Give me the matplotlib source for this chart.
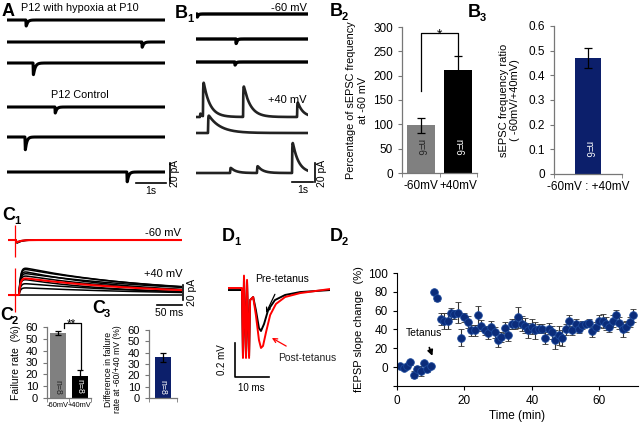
import numpy as np
import matplotlib
matplotlib.use("Agg")
import matplotlib.pyplot as plt

plt.rcParams['font.family'] = ['Liberation Sans', 'DejaVu Sans']

W, H = 640, 433
fig = plt.figure(figsize=(6.4, 4.33), dpi=100)

NAVY = '#0c1f6b'
DOT = '#0b2c7a'


def px_axes(x, y, w, h):
    return fig.add_axes([x / W, 1 - (y + h) / H, w / W, h / H])


def ftext(x, y, s, **kw):
    fig.text(x / W, 1 - y / H, s, **kw)


def panel_label(x, y, letter, sub=''):
    ftext(x, y, letter, fontsize=13, fontweight='bold', va='top')
    if sub:
        ftext(x + 12, y + 9, sub, fontsize=8, fontweight='bold', va='top')


def trace(t, events, rise):
    out = np.zeros_like(t)
    for t0, amp, tau in events:
        m = t >= t0
        dt = t[m] - t0
        out[m] += amp * (1 - np.exp(-dt / rise)) * np.exp(-dt / tau)
    return out


# ---------------- data ----------------
# A: spontaneous EPSCs (event time s, amplitude pA, decay s), -60 mV
A_hyp_events = [[(0.63, -8, 0.05)], [(4.50, -7, 0.05)], [(0.87, -15, 0.06)]]
A_ctl_events = [[(1.60, -8, 0.05)], [(0.60, -17, 0.05)], [(4.00, -13, 0.05)]]

# B1: same cell at -60 mV and +40 mV
B1_neg_events = [[(0.05, -4, 0.05)], [(1.90, -6, 0.05)], [(1.85, -4, 0.05)]]
B1_pos_events = [
    [(0.19, 5, 0.08), (0.33, 39, 0.30), (2.24, 35, 0.32), (4.81, 17, 0.25)],
    [(0.57, 19, 0.55)],
    [(1.62, 6, 0.25), (2.90, 8, 0.25), (4.57, 35, 0.28)],
]

# B2 / B3
b2_cats = ['-60mV', '+40mV']
b2_vals = [98, 211]
b2_err = [15, 30]
b3_val = 0.47
b3_err = 0.04

# C1: evoked EPSCs (amplitude pA, decay ms)
C1_neg_amp = [-6, -5, -4]
C1_neg_tau = [8, 10, 7]
C1_pos_amp = [38, 36, 33, 30, 27, 22, 16, 10, 0]
C1_pos_tau = [260, 280, 220, 300, 240, 200, 260, 300, 200]
C1_onset_ms = 22
C1_stim_ms = 14

# C2 / C3
c2_vals = [55, 19]
c2_err = [2, 5]
c3_val = 36
c3_err = 4

# D1: fEPSP traces (ms, mV)
d1_t = [0, 4.1, 4.4, 4.7, 5.3, 5.6, 6.2, 6.5, 7.4, 8.2, 9.1, 9.7, 10.6, 11.8,
        13.8, 16.8, 21.2, 25.6, 30]
d1_pre = [0, 0, -0.388, 0.071, -0.394, 0.047, -0.388, -0.059, -0.041, -0.118,
          -0.224, -0.241, -0.200, -0.118, -0.059, -0.029, -0.012, -0.006, 0.0]
d1_post_t = [0, 4.1, 4.4, 4.7, 5.3, 5.6, 6.2, 6.5, 7.4, 8.2, 9.1, 9.7, 10.3,
             11.2, 12.4, 14.1, 16.8, 21.2, 25.6, 30]
d1_post = [0.012, 0.012, -0.40, 0.085, -0.40, 0.06, -0.40, -0.059, -0.041, -0.147,
           -0.294, -0.341, -0.329, -0.247, -0.147, -0.082, -0.041, -0.018, -0.006, 0.006]

# D2: fEPSP slope change time course
d2_time = np.arange(1, 71)
d2_mean = [1, -1, 1, 5, -8, -2, -4, 4, -2, 1,
           80, 73, 51, 49, 49, 57, 56, 58, 31, 53,
           48, 39, 39, 55, 44, 39, 36, 43, 37, 29,
           32, 42, 34, 46, 46, 53, 46, 44, 39, 43,
           39, 41, 41, 31, 41, 37, 29, 34, 31, 40,
           49, 39, 46, 40, 45, 46, 47, 38, 43, 49,
           49, 46, 43, 49, 55, 47, 40, 43, 48, 55]
d2_err = [2, 2, 2, 3, 4, 3, 5, 3, 3, 2,
          2, 3, 6, 8, 8, 6, 5, 11, 9, 5,
          6, 6, 6, 10, 6, 5, 6, 6, 6, 8,
          5, 6, 6, 5, 5, 11, 8, 8, 8, 8,
          9, 5, 5, 6, 6, 7, 10, 10, 8, 6,
          6, 5, 5, 4, 4, 3, 4, 6, 5, 6,
          7, 7, 6, 6, 6, 6, 8, 6, 5, 7]

# ---------------- A ----------------
tA = np.linspace(0, 5.27, 1500)
A_rows = [20, 42, 63, 107, 137, 172]
for base, ev in zip(A_rows, A_hyp_events + A_ctl_events):
    ax = px_axes(7, base - 5, 158, 25)
    ax.plot(tA, trace(tA, ev, 0.004), color='black', lw=2.2)
    ax.set_xlim(0, 5.27)
    ax.set_ylim(-20, 5)
    ax.axis('off')
# scale bars on last row
ax.plot([4.3, 5.3], [-11, -11], color='black', lw=1.2, clip_on=False)
ax.plot([5.43, 5.43], [-11, 9], color='black', lw=1.2, clip_on=False)
ax.text(4.8, -14, '1s', ha='center', va='top', fontsize=7.5)
ax.text(5.62, -1, '20 pA', rotation=90, ha='center', va='center', fontsize=7.5)
ftext(80, 8, 'P12 with hypoxia at P10', ha='center', va='center', fontsize=7.8)
ftext(80, 95, 'P12 Control', ha='center', va='center', fontsize=7.8)
panel_label(2, 3, 'A')

# ---------------- B1 ----------------
tB = np.linspace(0, 5.33, 1500)
for base, ev in zip([14, 39, 62], B1_neg_events):
    ax = px_axes(196, base - 5, 112, 15)
    ax.plot(tB, trace(tB, ev, 0.004), color='black', lw=2.4)
    ax.set_xlim(0, 5.33)
    ax.set_ylim(-10, 5)
    ax.axis('off')
for base, ev in zip([117, 133, 173], B1_pos_events):
    ax = px_axes(196, base - 45, 112, 55)
    ax.plot(tB, trace(tB, ev, 0.01), color='#222222', lw=1.9)
    ax.set_xlim(0, 5.33)
    ax.set_ylim(-10, 45)
    ax.axis('off')
ax.plot([4.57, 5.57], [-9, -9], color='black', lw=1.2, clip_on=False)
ax.plot([5.67, 5.67], [-9, 10], color='black', lw=1.2, clip_on=False)
ax.text(5.07, -12, '1s', ha='center', va='top', fontsize=7.5)
ax.text(6.0, 0, '20 pA', rotation=90, ha='center', va='center', fontsize=7.5)
ftext(307, 8, '-60 mV', ha='right', va='center', fontsize=8)
ftext(307, 100, '+40 mV', ha='right', va='center', fontsize=8)
panel_label(175, 5, 'B', '1')


def excel_axes(ax, ncat):
    for s in ['top', 'right']:
        ax.spines[s].set_visible(False)
    for s in ['left', 'bottom']:
        ax.spines[s].set_color('#777777')
        ax.spines[s].set_linewidth(0.9)
    ax.set_xlim(-0.5, ncat - 0.5)
    ax.set_xticks(np.arange(-0.5, ncat, 1.0), minor=True)
    ax.tick_params(axis='x', which='major', length=0, pad=5)
    ax.tick_params(axis='x', which='minor', length=3, direction='out', color='#777777')
    ax.tick_params(axis='y', length=3, direction='out', color='#777777')


# ---------------- B2 ----------------
ax = px_axes(402, 27, 75, 146)
ax.bar([0, 1], b2_vals, width=0.75, color=['#808080', 'black'])
ax.errorbar([0, 1], b2_vals, yerr=b2_err, fmt='none', ecolor='black', elinewidth=0.9,
            capsize=3, capthick=0.9)
excel_axes(ax, 2)
ax.set_ylim(0, 300)
ax.set_yticks(range(0, 301, 50))
ax.set_xticks([0, 1], b2_cats)
ax.tick_params(labelsize=8.5)
ax.set_ylabel('Percentage of sEPSC frequency\nat -60 mV', fontsize=7.8, labelpad=4)
ax.plot([0, 0, 1, 1], [168, 288, 288, 240], color='black', lw=0.9, clip_on=False)
ax.text(0.5, 284, '*', ha='center', va='center', fontsize=10)
ax.text(0, 53, 'n=6', rotation=-90, ha='center', va='center', fontsize=7, color='#222222')
ax.text(1, 53, 'n=6', rotation=-90, ha='center', va='center', fontsize=7, color='white')
panel_label(330, 3, 'B', '2')

# ---------------- B3 ----------------
ax = px_axes(554, 26, 68, 148)
ax.bar([0], [b3_val], width=0.38, color=NAVY)
ax.errorbar([0], [b3_val], yerr=[b3_err], fmt='none', ecolor='black', elinewidth=0.9,
            capsize=3, capthick=0.9)
excel_axes(ax, 1)
ax.set_ylim(0, 0.6)
ax.set_yticks(np.arange(0, 0.61, 0.1), ['0', '0.1', '0.2', '0.3', '0.4', '0.5', '0.6'])
ax.set_xticks([0], ['-60mV : +40mV'])
ax.tick_params(labelsize=8.5)
ax.set_ylabel('sEPSC frequency ratio\n( -60mV/+40mV)', fontsize=8, labelpad=6)
ax.text(0, 0.1, 'n=6', rotation=-90, ha='center', va='center', fontsize=7, color='white')
panel_label(468, 4, 'B', '3')

# ---------------- C1 ----------------
tC = np.linspace(0, 348, 1200)
ax = px_axes(8, 222, 174, 40)
neg = [trace(tC, [(C1_stim_ms + 2, a, tau)], 1.0) for a, tau in zip(C1_neg_amp, C1_neg_tau)]
for tr in neg:
    ax.plot(tC, tr, color='black', lw=1.0)
ax.vlines(C1_stim_ms, -23, 20, color='red', lw=0.9)
ax.plot(tC, np.mean(neg, axis=0) * 0.8, color='red', lw=1.5)
ax.set_xlim(0, 348)
ax.set_ylim(-29.3, 24)
ax.axis('off')
ax.text(345, 10, '-60 mV', ha='right', va='center', fontsize=8)

ax = px_axes(8, 262, 174, 55)
pos = [trace(tC, [(C1_onset_ms, a, tau)], 3.0) for a, tau in zip(C1_pos_amp, C1_pos_tau)]
for tr in pos:
    ax.plot(tC, tr, color='black', lw=1.1)
ax.vlines(C1_stim_ms, -23, 36, color='red', lw=0.9)
ax.plot(tC, np.mean(pos, axis=0), color='red', lw=1.5)
ax.set_xlim(0, 348)
ax.set_ylim(-29.3, 44)
ax.axis('off')
ax.text(348, 28, '+40 mV', ha='right', va='center', fontsize=8)
ax.plot([298, 348], [-13, -13], color='black', lw=1.2, clip_on=False)
ax.plot([350, 350], [-7, 13], color='black', lw=1.2, clip_on=False)
ax.text(323, -17, '50 ms', ha='center', va='top', fontsize=7.5)
ax.text(368, 3, '20 pA', rotation=90, ha='center', va='center', fontsize=7.5)
panel_label(2, 207, 'C', '1')

# ---------------- C2 ----------------
ax = px_axes(47, 327, 44, 71)
ax.bar([0, 1], c2_vals, width=0.76, color=['#808080', 'black'])
ax.errorbar([0, 1], c2_vals, yerr=c2_err, fmt='none', ecolor='black', elinewidth=0.9,
            capsize=2.5, capthick=0.9)
excel_axes(ax, 2)
ax.set_ylim(0, 60)
ax.set_yticks(range(0, 61, 10))
ax.set_xticks([0, 1], b2_cats)
ax.tick_params(axis='y', labelsize=8)
ax.tick_params(axis='x', labelsize=5.4, pad=3)
ax.set_ylabel('Failure rate  (%)', fontsize=7.5, labelpad=3)
ax.plot([0.25, 0.25, 1.05, 1.05], [59, 63.5, 63.5, 24], color='black', lw=0.9, clip_on=False)
ax.text(0.62, 62, '**', ha='center', va='center', fontsize=8.5)
ax.text(0, 9, 'n=8', rotation=-90, ha='center', va='center', fontsize=6.3, color='#222222')
ax.text(1, 10, 'n=8', rotation=-90, ha='center', va='center', fontsize=6.3, color='white')
panel_label(0, 307, 'C', '2')

# ---------------- C3 ----------------
ax = px_axes(149, 330, 28, 68)
ax.bar([0], [c3_val], width=0.6, color=NAVY)
ax.errorbar([0], [c3_val], yerr=[c3_err], fmt='none', ecolor='black', elinewidth=0.9,
            capsize=2.5, capthick=0.9)
excel_axes(ax, 1)
ax.set_ylim(0, 60)
ax.set_yticks(range(0, 61, 10))
ax.set_xticks([])
ax.tick_params(axis='y', labelsize=8)
ax.set_ylabel('Difference in failure\nrate at -60/+40 mV (%)', fontsize=6.2, linespacing=1.0)
ax.yaxis.set_label_coords(-0.95, 0.42)
ax.text(0, 9, 'n=8', rotation=-90, ha='center', va='center', fontsize=6.3, color='white')
panel_label(92, 300, 'C', '3')

# ---------------- D1 ----------------
ax = px_axes(228, 270, 102, 125)
ax.plot(d1_t, d1_pre, color='black', lw=1.4)
ax.plot(d1_post_t, d1_post, color='red', lw=1.4)
ax.set_xlim(0, 30)
ax.set_ylim(-0.618, 0.118)
ax.axis('off')
ax.plot([2, 2, 12], [-0.31, -0.51, -0.51], color='black', lw=1.2, clip_on=False)
ax.text(-0.4, -0.41, '0.2 mV', rotation=90, ha='right', va='center', fontsize=7)
ax.text(7, -0.55, '10 ms', ha='center', va='top', fontsize=7)
ax.annotate('Pre-tetanus', xy=(11.2, -0.135), xytext=(8, 0.065), fontsize=7.5,
            va='center', ha='left', annotation_clip=False,
            arrowprops=dict(arrowstyle='->', color='black', lw=0.9, shrinkA=6, shrinkB=0))
ax.annotate('Post-tetanus', xy=(12.9, -0.282), xytext=(14.7, -0.40), fontsize=7.5,
            va='center', ha='left', color='#222222', annotation_clip=False,
            arrowprops=dict(arrowstyle='->', color='red', lw=0.9, shrinkA=6, shrinkB=0))
panel_label(222, 228, 'D', '1')

# ---------------- D2 ----------------
ax = px_axes(397, 273, 241, 113)
ax.errorbar(d2_time, d2_mean, yerr=d2_err, fmt='o', ms=5.5, mfc=DOT, mec='#1d4a9c',
            mew=0.6, ecolor='#333333', elinewidth=0.8, capsize=2.2, capthick=0.8)
for s in ['top', 'right']:
    ax.spines[s].set_visible(False)
ax.set_xlim(0, 71.5)
ax.set_ylim(-20, 100)
ax.set_yticks(range(-20, 101, 20), [''] + [str(v) for v in range(0, 101, 20)])
ax.set_xticks([0, 20, 40, 60])
ax.tick_params(labelsize=8.5, length=3, direction='out')
ax.set_ylabel('fEPSP slope change  (%)', fontsize=8, labelpad=3)
ax.set_xlabel('Time (min)', fontsize=8.5, labelpad=2)
ax.annotate('Tetanus', xy=(10.5, 12), xytext=(8, 36), fontsize=7.5, ha='center', va='center',
            arrowprops=dict(arrowstyle='-|>', color='black', lw=1.2, mutation_scale=8,
                            shrinkA=5, shrinkB=0))
panel_label(330, 228, 'D', '2')

fig.savefig('out.png', dpi=100)
